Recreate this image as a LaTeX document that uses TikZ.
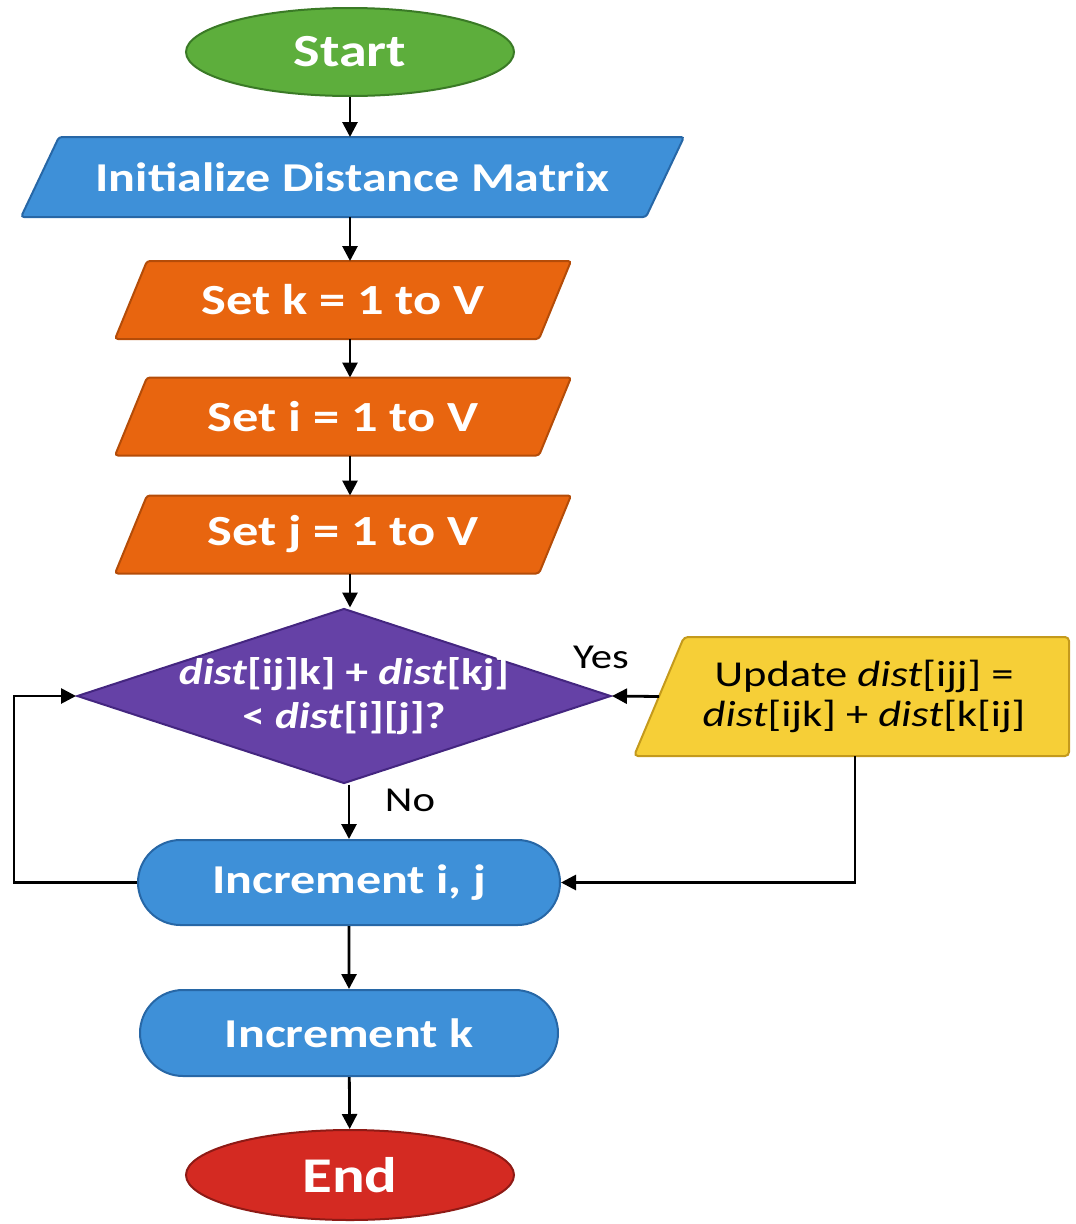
\documentclass[tikz,border=0pt]{standalone}
\usepackage{fontspec}
\setmainfont{Carlito}[FakeStretch=1.22]
\usetikzlibrary{shapes.geometric,shapes.misc,arrows.meta,backgrounds}
\definecolor{gfill}{HTML}{5DAE3C}\definecolor{gline}{HTML}{3A7A26}
\definecolor{bfill}{HTML}{3E90D8}\definecolor{bline}{HTML}{2767A6}
\definecolor{ofill}{HTML}{E8650F}\definecolor{oline}{HTML}{B44C08}
\definecolor{pfill}{HTML}{6541A6}\definecolor{pline}{HTML}{442680}
\definecolor{yfill}{HTML}{F6CF37}\definecolor{yline}{HTML}{C49A1C}
\definecolor{rfill}{HTML}{D42A22}\definecolor{rline}{HTML}{8E1A15}
\tikzset{
 base/.style={line width=2pt, text=white, font=\bfseries\fontsize{43}{46}\selectfont, inner sep=0pt},
 term/.style={base, ellipse, minimum width=328pt, minimum height=88pt},
 iobox/.style={base, rectangle, minimum height=76pt},
 shapeline/.style={line width=2pt, rounded corners=3pt},
 pill/.style={base, rounded rectangle, fill=bfill, draw=bline, font=\bfseries\fontsize{41}{44}\selectfont},
 lbl/.style={font=\fontsize{35}{38}\selectfont, text=black},
 conn/.style={line width=2.8pt, -{Triangle[length=15pt,width=15pt]}}
}
\newcommand{\paraoutline}[4]{% name, half slant, fill, draw
 \path[shapeline, fill=#3, draw=#4] ([xshift=#2pt]#1.north west) -- ([xshift=#2pt]#1.north east) -- ([xshift=-#2pt]#1.south east) -- ([xshift=-#2pt]#1.south west) -- cycle;}
\begin{document}
\begin{tikzpicture}[x=1pt,y=-1pt]
\useasboundingbox (0,0) rectangle (1076,1224);
\node[term, fill=gfill, draw=gline, font=\bfseries\fontsize{46}{48}\selectfont] (start) at (350,52) {Start};
\node[iobox, minimum width=623pt, minimum height=78pt, font=\bfseries\fontsize{41}{44}\selectfont] (init) at (352.5,177) {Initialize Distance Matrix};
\node[iobox, minimum width=422pt] (setk) at (343,300) {Set k = 1 to V};
\node[iobox, minimum width=422pt] (seti) at (343,416.5) {Set i = 1 to V};
\node[iobox, minimum width=422pt] (setj) at (343,534.5) {Set j = 1 to V};
\node[base, diamond, fill=pfill, draw=pline, minimum width=534pt, minimum height=175pt,
 label={[text=white, font=\bfseries\fontsize{37}{44}\selectfont, align=center]center:{\textit{dist}[ij]k] + \textit{dist}[kj]\\< \textit{dist}[i][j]?}}] (dia) at (344,696) {};
\node[base, rectangle, text=black, minimum width=408pt, minimum height=117pt, font=\fontsize{36.5}{40}\selectfont, align=center] (upd) at (864,696.5)
 {Update \textit{dist}[ijj] =\\\textit{dist}[ijk] + \textit{dist}[k[ij]};
\node[pill, minimum width=422pt, minimum height=85pt] (inc1) at (349,882.5) {Increment i, j};
\node[pill, minimum width=418pt, minimum height=86pt] (inc2) at (349,1033) {Increment k};
\node[term, fill=rfill, draw=rline, minimum height=90pt, font=\bfseries\fontsize{50}{52}\selectfont] (end) at (350,1175) {End};
\node[lbl] (yes) at (601,657) {Yes};
\node[lbl] (no) at (410,800) {No};
\begin{scope}[on background layer]
\paraoutline{init}{19}{bfill}{bline}
\paraoutline{setk}{16}{ofill}{oline}
\paraoutline{seti}{16}{ofill}{oline}
\paraoutline{setj}{16}{ofill}{oline}
\path[shapeline, rounded corners=4pt, fill=yfill, draw=yline] ([xshift=25pt]upd.north west) -- (upd.north east) -- (upd.south east) -- ([xshift=-25pt]upd.south west) -- cycle;
\end{scope}
\coordinate (lp) at (14,882.5);
\coordinate (ud) at ([xshift=-9pt]upd.south);
\draw[conn] (start.south) -- (start.south |- init.north);
\draw[conn] (init.south -| start) -- (setk.north -| start);
\draw[conn] (setk.south -| start) -- (seti.north -| start);
\draw[conn] (seti.south -| start) -- (setj.north -| start);
\draw[conn] (setj.south -| start) -- (dia.north -| start);
\draw[conn] (dia.south -| inc1) -- (inc1.north);
\draw[conn] (upd.west) -- (dia.east);
\draw[conn] (ud) |- (inc1.east);
\draw[conn] (inc1.west) -- (lp) |- (dia.west);
\draw[conn] (inc1) -- (inc2);
\draw[conn] (inc2) -- (end);
\end{tikzpicture}
\end{document}
